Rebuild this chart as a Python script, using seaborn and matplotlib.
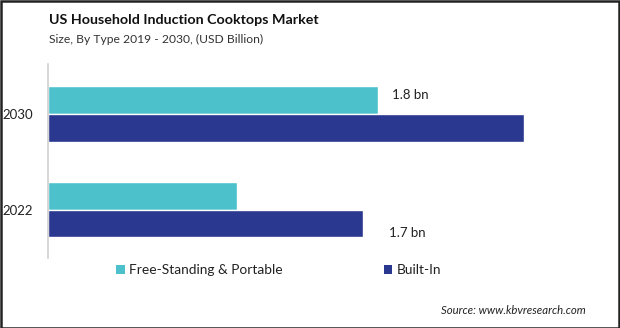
import matplotlib
matplotlib.use("Agg")
import matplotlib.pyplot as plt
import seaborn as sns
import pandas as pd
from matplotlib.patches import Rectangle, Patch

years = ["2030", "2022"]
series = ["Free-Standing & Portable", "Built-In"]
free_standing = [1.78, 1.02]
built_in = [2.57, 1.70]
label_texts = ["1.8 bn", "1.7 bn"]

colors = ["#4DC1CB", "#2A3890"]

df = pd.DataFrame({
    "Year": years * 2,
    "Type": [series[0]] * 2 + [series[1]] * 2,
    "Value": free_standing + built_in,
})

sns.set_theme(style="white")
plt.rcParams["font.family"] = ["Lato", "DejaVu Sans"]

fig = plt.figure(figsize=(6.2, 3.28), dpi=100)
ax = fig.add_axes([48 / 620, 70 / 328, 556 / 620, 194 / 328])

sns.barplot(data=df, y="Year", x="Value", hue="Type", order=years,
            hue_order=series, palette=colors, orient="h", width=0.58,
            saturation=1, ax=ax, legend=False)

ax.set_xlim(0, 3.0)
ax.set_ylim(1.506, -0.52)
ax.set_xlabel("")
ax.set_ylabel("")
ax.set_xticks([])
for s in ["top", "right", "bottom"]:
    ax.spines[s].set_visible(False)
ax.spines["left"].set_color("#D0D0D0")
ax.spines["left"].set_linewidth(1.2)
ax.tick_params(axis="y", length=0, pad=11, labelsize=9.5, labelcolor="#222222")

# value labels
ax.text(1.857, -0.196, label_texts[0], va="center", ha="left", fontsize=9.5, color="#222222")
ax.text(1.84, 1.245, label_texts[1], va="center", ha="left", fontsize=9.5, color="#222222")

# titles
fig.text(49 / 620, 1 - 24 / 328, "US Household Induction Cooktops Market",
         fontsize=10.3, fontweight="bold", color="#111111", va="baseline", ha="left")
fig.text(49 / 620, 1 - 43 / 328, "Size, By Type 2019 - 2030, (USD Billion)",
         fontsize=8.7, color="#333333", va="baseline", ha="left")

# legend
handles = [Patch(facecolor=c, edgecolor="none") for c in colors]
fig.legend(handles, series, loc="center left", bbox_to_anchor=(104 / 620, 1 - 270 / 328),
           ncol=2, frameon=False, fontsize=9.9, handlelength=0.6, handleheight=0.6,
           handletextpad=0.3, columnspacing=7.4, labelcolor="#222222")

fig.text(586 / 620, 1 - 311 / 328, "Source: www.kbvresearch.com", fontsize=8.2,
         style="italic", color="#222222", ha="right", va="center")

# frame
fig.patches.append(Rectangle((0.5 / 620, 0.5 / 328), 618.5 / 620, 326.5 / 328,
                             transform=fig.transFigure, fill=False,
                             edgecolor="#222222", linewidth=1.8))

fig.savefig("out.png", dpi=100)
